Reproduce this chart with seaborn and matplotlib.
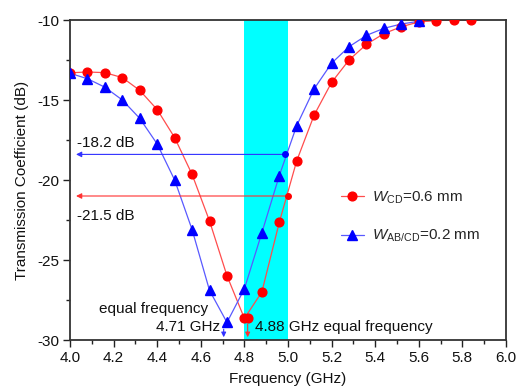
import numpy as np
import pandas as pd
import matplotlib
matplotlib.use("Agg")
import matplotlib.pyplot as plt
import seaborn as sns
from matplotlib.lines import Line2D

# ---- data ----
freq_cd = [4.00, 4.08, 4.16, 4.24, 4.32, 4.40, 4.48, 4.56, 4.64, 4.72, 4.80, 4.88,
           4.96, 5.04, 5.12, 5.20, 5.28, 5.36, 5.44, 5.52, 5.60, 5.68, 5.76, 5.84]
s21_cd = [-13.30, -13.25, -13.29, -13.60, -14.40, -15.60, -17.35, -19.65, -22.56, -25.98,
          -28.65, -27.00, -22.65, -18.80, -15.94, -13.90, -12.50, -11.52, -10.85, -10.42,
          -10.12, -10.04, -10.00, -10.00]
freq_ab = [4.00, 4.08, 4.16, 4.24, 4.32, 4.40, 4.48, 4.56, 4.64, 4.72, 4.80, 4.88,
           4.96, 5.04, 5.12, 5.20, 5.28, 5.36, 5.44, 5.52, 5.60]
s21_ab = [-13.33, -13.67, -14.20, -15.00, -16.15, -17.75, -20.00, -23.10, -26.90, -28.90,
          -26.80, -23.30, -19.73, -16.60, -14.30, -12.70, -11.67, -10.96, -10.52, -10.25,
          -10.08]
label_cd = r"$\mathit{W}_{\mathrm{CD}}$=0.6 mm"
label_ab = r"$\mathit{W}_{\mathrm{AB/CD}}$=0.2 mm"
band = (4.8, 5.0)
x_ticks = [4.0, 4.2, 4.4, 4.6, 4.8, 5.0, 5.2, 5.4, 5.6, 5.8, 6.0]
y_ticks = [-30, -25, -20, -15, -10]

sns.set_theme(style="white")
plt.rcParams['font.family'] = ['Liberation Sans', 'DejaVu Sans']
plt.rcParams['mathtext.fontset'] = 'custom'
plt.rcParams['mathtext.rm'] = 'Liberation Sans'
plt.rcParams['mathtext.it'] = 'Liberation Sans:italic'

fig = plt.figure(figsize=(5.16, 3.88), dpi=100)
ax = fig.add_axes([70/516, 1-340/388, 436/516, 320/388])

ax.axvspan(band[0], band[1], color='#00ffff', zorder=0, lw=0)

df_cd = pd.DataFrame({"f": freq_cd, "s": s21_cd})
df_ab = pd.DataFrame({"f": freq_ab, "s": s21_ab})

sns.lineplot(data=df_cd, x="f", y="s", ax=ax, color=(1, 0.3, 0.3), lw=0.9, zorder=2)
sns.lineplot(data=df_ab, x="f", y="s", ax=ax, color=(0.35, 0.35, 1), lw=0.9, zorder=2)
ax.plot(freq_cd, s21_cd, ls='none', marker='o', ms=6.3, color='#ff0000', mec='#ff0000', zorder=3)
ax.plot(freq_ab, s21_ab, ls='none', marker='^', ms=6.8, color='#0000ff', mec='#0000ff', zorder=3)

# extra min marker
ax.plot([4.815], [-28.62], marker='o', ms=6.3, color='#ff0000', zorder=3)

# horizontal arrows
ax.annotate("", xy=(4.015, -18.4), xytext=(5.0, -18.4),
            arrowprops=dict(arrowstyle='-|>', color='#3030ff', lw=0.8, mutation_scale=8), zorder=4)
ax.annotate("", xy=(4.015, -21.0), xytext=(5.0, -21.0),
            arrowprops=dict(arrowstyle='-|>', color='#ff3030', lw=0.8, mutation_scale=8), zorder=4)
ax.plot([4.985], [-18.4], marker='o', ms=4, color='#0000ff', zorder=4)
ax.plot([5.0], [-21.0], marker='o', ms=4, color='#ff0000', zorder=4)

# vertical arrows
ax.annotate("", xy=(4.705, -30.0), xytext=(4.705, -29.15),
            arrowprops=dict(arrowstyle='-|>', color='#3030ff', lw=0.8, mutation_scale=7), zorder=4)
ax.annotate("", xy=(4.815, -30.0), xytext=(4.815, -28.85),
            arrowprops=dict(arrowstyle='-|>', color='#ff3030', lw=0.8, mutation_scale=7), zorder=4)

fs = 11
ax.text(4.03, -17.7, "-18.2 dB", fontsize=fs, ha='left', va='center', color='#111111')
ax.text(4.03, -22.25, "-21.5 dB", fontsize=fs, ha='left', va='center', color='#111111')
ax.text(4.635, -28.08, "equal frequency", fontsize=fs, ha='right', va='center', color='#111111')
ax.text(4.69, -29.17, "4.71 GHz", fontsize=fs, ha='right', va='center', color='#111111')
ax.text(4.85, -29.2, "4.88 GHz equal frequency", fontsize=fs, ha='left', va='center', color='#111111')

handles = [Line2D([], [], color=(1, 0.3, 0.3), lw=0.9, marker='o', ms=6.3, mfc='#ff0000', mec='#ff0000'),
           Line2D([], [], color=(0.35, 0.35, 1), lw=0.9, marker='^', ms=6.8, mfc='#0000ff', mec='#0000ff')]
ax.legend(handles, [label_cd, label_ab], loc='center left', bbox_to_anchor=(0.59, 0.385),
          frameon=False, fontsize=fs, handlelength=1.5, labelspacing=1.45, handletextpad=0.5)

ax.set_xlim(4.0, 6.0)
ax.set_ylim(-30, -10)
ax.set_xticks(x_ticks)
ax.set_xticklabels([f"{t:.1f}" for t in x_ticks])
ax.set_yticks(y_ticks)
ax.set_yticklabels([f"{t}" for t in y_ticks])
ax.set_xticks(np.arange(4.1, 6.0, 0.2), minor=True)
ax.set_yticks([-27.5, -22.5, -17.5, -12.5], minor=True)
ax.tick_params(which='major', direction='out', length=5, width=1, colors='#222222',
               labelsize=fs, pad=3, bottom=True, left=True, top=False, right=False)
ax.tick_params(which='minor', direction='out', length=3, width=1, colors='#222222',
               bottom=True, left=True, top=False, right=False)
for t in ax.get_xticklabels() + ax.get_yticklabels():
    t.set_color('#111111')
for sp in ax.spines.values():
    sp.set_color('#333333')
    sp.set_linewidth(1.3)
    sp.set_visible(True)

ax.set_xlabel("Frequency (GHz)", fontsize=fs, color='#111111', labelpad=5)
ax.set_ylabel("Transmission Coefficient (dB)", fontsize=fs, color='#111111', labelpad=6)

fig.savefig("out.png", dpi=100)
